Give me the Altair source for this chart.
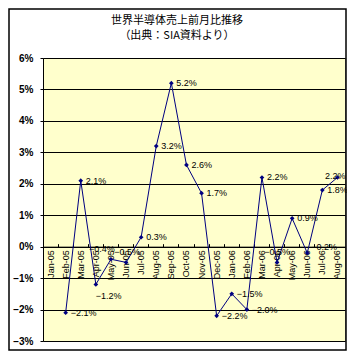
import altair as alt
import pandas as pd

MONTHS = ["Jan-05", "Feb-05", "Mar-05", "Apr-05", "May-05", "Jun-05", "Jul-05",
          "Aug-05", "Sep-05", "Oct-05", "Nov-05", "Dec-05", "Jan-06", "Feb-06",
          "Mar-06", "Apr-06", "May-06", "Jun-06", "Jul-06", "Aug-06"]
VALUES = [None, -2.1, 2.1, -1.2, -0.4, -0.5, 0.3, 3.2, 5.2, 2.6, 1.7, -2.2,
          -1.5, -2.0, 2.2, -0.5, 0.9, -0.2, 1.8, 2.2]
TITLE = ["世界半導体売上前月比推移", "（出典：SIA資料より）"]
Y_TICKS = [-3, -2, -1, 0, 1, 2, 3, 4, 5, 6]

# label placement style (not data): (align, dx, dy)
LABEL_STYLE = {
    "Apr-05": ("left", 0, 12),
    "May-05": ("center", -9, -10),
    "Jun-05": ("center", 1, -10),
    "Apr-06": ("center", 0, -10),
    "Jun-06": ("left", 4, -6),
    "Aug-06": ("right", 8, -1),
}
DEFAULT_STYLE = ("left", 5, 0)

W, H = 302, 283
NAVY = "#000080"

df = pd.DataFrame({"month": MONTHS, "value": VALUES})
df["label"] = df["value"].apply(
    lambda v: None if pd.isna(v) else ("−" if v < 0 else "") + f"{abs(v):.1f}%")
df["style"] = df["month"].apply(lambda m: str(LABEL_STYLE.get(m, DEFAULT_STYLE)))

xscale = alt.Scale(type="band", domain=MONTHS, paddingInner=0, paddingOuter=0)
yscale = alt.Scale(domain=[-3, 6], nice=False, zero=False)

x_bottom = alt.X("month:N", scale=xscale, sort=MONTHS, title=None,
                 axis=alt.Axis(orient="bottom", offset=-H * 3 / 9, ticks=False,
                               domain=True, domainColor="black", labelAngle=270,
                               labelFont="Liberation Sans", labelFontSize=9,
                               labelColor="black", labelPadding=3, grid=False))
x_plain = alt.X("month:N", scale=xscale, sort=MONTHS, title=None)
y_enc = alt.Y("value:Q", scale=yscale, title=None,
              axis=alt.Axis(values=Y_TICKS, grid=True, gridColor="black",
                            gridOpacity=1, gridWidth=1, domainColor="black",
                            tickColor="black", tickSize=3, labelPadding=7,
                            labelOverlap=False, tickCount=10,
                            labelFont="Liberation Sans", labelFontSize=10,
                            labelFontWeight="bold", labelColor="black",
                            labelExpr="(datum.value < 0 ? '−' : '') + abs(datum.value) + '%'"))

base = alt.Chart(df)

frame = base.mark_rect(fill=None, stroke="black", strokeWidth=1.5).encode(
    x=alt.value(-34), x2=alt.value(W + 1), y=alt.value(-49), y2=alt.value(H + 9)
).transform_filter(alt.datum.month == MONTHS[0])

line = base.mark_line(color=NAVY, strokeWidth=1).encode(x=x_bottom, y=y_enc)
points = base.mark_point(shape="diamond", filled=True, color=NAVY, size=22,
                         opacity=1).encode(x=x_plain, y=y_enc)

label_layers = []
styles = {str(s): s for s in list(LABEL_STYLE.values()) + [DEFAULT_STYLE]}
for key, (align, dx, dy) in styles.items():
    label_layers.append(
        base.transform_filter(alt.datum.style == key)
        .transform_filter("isValid(datum.value)")
        .mark_text(align=align, baseline="middle", dx=dx, dy=dy,
                   font="Liberation Sans", fontSize=9, color="black")
        .encode(x=x_plain, y=y_enc, text="label:N"))

main = alt.layer(line, points, *label_layers, frame)

ticks_layer = base.mark_line(opacity=0).encode(
    x=alt.X("month:N", scale=xscale, sort=MONTHS, title=None,
            axis=alt.Axis(orient="top", offset=-H * 6 / 9, labels=False,
                          domain=False, ticks=True, tickSize=3, tickColor="black",
                          bandPosition=0, grid=False)),
    y=y_enc)

chart = alt.layer(main, ticks_layer).resolve_scale(x="independent").properties(
    width=W, height=H,
    title=alt.TitleParams(TITLE, anchor="middle", frame="group", dx=-17, offset=-33,
                          font="Noto Sans CJK JP", fontSize=11, fontWeight="normal",
                          lineHeight=15, color="black"),
    autosize=alt.AutoSizeParams(type="none"),
    padding={"left": 35, "top": 50, "right": 2, "bottom": 10},
).configure(background="white").configure_view(fill="#FFFFCC", stroke="#808080",
                                               strokeWidth=1
).configure_axisY(labelOverlap=False)

chart.save("out.html", embed_options={"renderer": "svg", "actions": False})
